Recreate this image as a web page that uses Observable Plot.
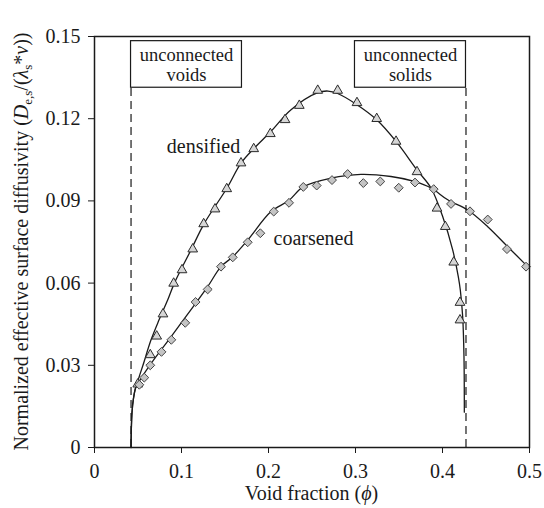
<!DOCTYPE html>
<html>
<head>
<meta charset="utf-8">
<script src="https://cdn.jsdelivr.net/npm/d3@7"></script>
<script src="https://cdn.jsdelivr.net/npm/@observablehq/plot@0.6"></script>
<style>
  html, body { margin: 0; padding: 0; background: #fff; }
</style>
</head>
<body>
<div id="chart"></div>
<script>
// ---- data ----
// densified (triangles)
const densifiedX = [0.0497, 0.0641, 0.0715, 0.0787, 0.0910, 0.1006, 0.1129, 0.1255, 0.1385, 0.1520, 0.1684, 0.1830, 0.2021, 0.2190, 0.2354, 0.2566, 0.2795, 0.3017, 0.3244, 0.3466, 0.3707, 0.3937, 0.4032, 0.4129, 0.4201, 0.4201];
const densifiedY = [0.0231, 0.0338, 0.0406, 0.0487, 0.0599, 0.0648, 0.0724, 0.0816, 0.0870, 0.0944, 0.1038, 0.1090, 0.1145, 0.1196, 0.1248, 0.1303, 0.1303, 0.1258, 0.1200, 0.1117, 0.1006, 0.0873, 0.0806, 0.0676, 0.0529, 0.0465];
// coarsened (diamonds)
const coarsenedX = [0.0515, 0.0572, 0.0641, 0.0770, 0.0883, 0.1043, 0.1162, 0.1301, 0.1454, 0.1589, 0.1761, 0.1906, 0.2060, 0.2236, 0.2400, 0.2554, 0.2730, 0.2910, 0.3090, 0.3285, 0.3497, 0.3684, 0.3899, 0.4098, 0.4316, 0.4520, 0.4741, 0.4960];
const coarsenedY = [0.0229, 0.0255, 0.0300, 0.0349, 0.0393, 0.0455, 0.0531, 0.0577, 0.0660, 0.0694, 0.0749, 0.0782, 0.0861, 0.0893, 0.0951, 0.0956, 0.0976, 0.0998, 0.0965, 0.0971, 0.0948, 0.0967, 0.0943, 0.0889, 0.0862, 0.0832, 0.0724, 0.0660];
// fitted curves
const densifiedFitX = [0.0420, 0.0423, 0.0431, 0.0448, 0.0471, 0.0511, 0.0557, 0.0649, 0.0741, 0.0841, 0.0917, 0.1109, 0.1262, 0.1523, 0.1684, 0.1837, 0.2029, 0.2259, 0.2566, 0.2684, 0.2795, 0.3017, 0.3244, 0.3466, 0.3707, 0.3868, 0.4002, 0.4117, 0.4182, 0.4205, 0.4232, 0.4247, 0.4251];
const densifiedFitY = [0.0000, 0.0062, 0.0128, 0.0179, 0.0216, 0.0256, 0.0300, 0.0392, 0.0465, 0.0538, 0.0599, 0.0721, 0.0818, 0.0947, 0.1038, 0.1093, 0.1154, 0.1233, 0.1295, 0.1301, 0.1292, 0.1251, 0.1196, 0.1117, 0.1013, 0.0947, 0.0843, 0.0721, 0.0623, 0.0574, 0.0477, 0.0330, 0.0129];
const coarsenedFitX = [0.0420, 0.0423, 0.0431, 0.0448, 0.0471, 0.0500, 0.0649, 0.0879, 0.1167, 0.1301, 0.1454, 0.1589, 0.1761, 0.2029, 0.2236, 0.2397, 0.2718, 0.3063, 0.3408, 0.3676, 0.3868, 0.4060, 0.4290, 0.4520, 0.4749, 0.4979];
const coarsenedFitY = [0.0000, 0.0062, 0.0128, 0.0179, 0.0216, 0.0234, 0.0306, 0.0404, 0.0528, 0.0587, 0.0660, 0.0696, 0.0757, 0.0861, 0.0902, 0.0951, 0.0983, 0.0997, 0.0989, 0.0971, 0.0947, 0.0904, 0.0867, 0.0806, 0.0733, 0.0660];
// percolation thresholds (dashed lines)
const thresholdX = [0.042, 0.427];
// annotation boxes
const boxLines = [["unconnected", "voids"], ["unconnected", "solids"]];
const boxX1 = [0.042, 0.2994];
const boxX2 = [0.1695, 0.427];
const boxY1 = [0.1313, 0.1313];
const boxY2 = [0.1483, 0.1483];
// curve labels
const curveLabels = ["densified", "coarsened"];
const curveLabelX = [0.1253, 0.2517];
const curveLabelY = [0.1099, 0.0763];
// ticks
const xTicks = [0, 0.1, 0.2, 0.3, 0.4, 0.5];
const xTickLabels = ["0", "0.1", "0.2", "0.3", "0.4", "0.5"];
const yTicks = [0, 0.03, 0.06, 0.09, 0.12, 0.15];
const yTickLabels = ["0", "0.03", "0.06", "0.09", "0.12", "0.15"];

// ---- build tables ----
const tri = densifiedX.map((x, i) => ({x, y: densifiedY[i]}));
const dia = coarsenedX.map((x, i) => ({x, y: coarsenedY[i]}));
const fitD = densifiedFitX.map((x, i) => ({x, y: densifiedFitY[i]}));
const fitC = coarsenedFitX.map((x, i) => ({x, y: coarsenedFitY[i]}));
const boxes = boxLines.map((l, i) => ({text: l.join("\n"), x1: boxX1[i], x2: boxX2[i], y1: boxY1[i], y2: boxY2[i], xc: (boxX1[i] + boxX2[i]) / 2, yc: (boxY1[i] + boxY2[i]) / 2}));
const thresholds = thresholdX.map((x, i) => ({x, top: boxY1[i]}));
const labels = curveLabels.map((t, i) => ({t, x: curveLabelX[i], y: curveLabelY[i]}));

const FONT = "'Liberation Serif', 'DejaVu Serif', serif";
const INK = "#1a1a1a";

const chart = Plot.plot({
  width: 544,
  height: 508,
  marginLeft: 94,
  marginRight: 15,
  marginTop: 36,
  marginBottom: 61,
  style: {fontFamily: FONT, fontSize: "20px", background: "#fff", color: INK},
  x: {domain: [0, 0.5]},
  y: {domain: [0, 0.15]},
  marks: [
    Plot.ruleX(thresholds, {x: "x", y1: 0, y2: "top", stroke: INK, strokeWidth: 1.2, strokeDasharray: "8,5"}),
    Plot.rect(boxes, {x1: "x1", x2: "x2", y1: "y1", y2: "y2", fill: "#fff", stroke: INK, strokeWidth: 1.2}),
    Plot.text(boxes, {x: "xc", y: "yc", text: "text", fontSize: 18.5, lineHeight: 1.12, fill: INK}),
    Plot.line(fitD, {x: "x", y: "y", curve: "catmull-rom", stroke: INK, strokeWidth: 1.3}),
    Plot.line(fitC, {x: "x", y: "y", curve: "catmull-rom", stroke: INK, strokeWidth: 1.3}),
    Plot.dot(tri, {x: "x", y: "y", symbol: "triangle", r: 3.6, fill: "#d6d6d6", stroke: "#2a2a2a", strokeWidth: 1}),
    Plot.dot(dia, {x: "x", y: "y", symbol: "diamond2", r: 4, fill: "#c4c4c4", stroke: "#444", strokeWidth: 1}),
    Plot.text(labels, {x: "x", y: "y", text: "t", fontSize: 20, fill: INK}),
    Plot.axisX(xTicks, {tickFormat: d => xTickLabels[xTicks.indexOf(d)], tickSize: 6, tickPadding: 10, label: null, fontSize: 20}),
    Plot.axisY(yTicks, {tickFormat: d => yTickLabels[yTicks.indexOf(d)], tickSize: 6, tickPadding: 8, label: null, fontSize: 20}),
    Plot.frame({stroke: INK, strokeWidth: 1.5})
  ]
});

document.getElementById("chart").appendChild(chart);

// axis titles with italic symbols and subscripts
const svg = d3.select(chart);
const xl = svg.append("text")
  .attr("x", 311.5).attr("y", 500)
  .attr("text-anchor", "middle")
  .attr("font-family", FONT).attr("font-size", 20).attr("fill", INK);
xl.append("tspan").text("Void fraction (");
xl.append("tspan").attr("font-style", "italic").text("ϕ");
xl.append("tspan").text(")");

const yl = svg.append("text")
  .attr("transform", "translate(21,241.5) rotate(-90)")
  .attr("text-anchor", "middle").attr("dy", "0.35em")
  .attr("font-family", FONT).attr("font-size", 20).attr("fill", INK);
yl.append("tspan").text("Normalized effective surface diffusivity (");
yl.append("tspan").attr("font-style", "italic").text("D");
yl.append("tspan").attr("font-size", 13).attr("dy", 4).text("e,s");
yl.append("tspan").attr("dy", -4).text("/(");
yl.append("tspan").attr("font-style", "italic").text("λ");
yl.append("tspan").attr("font-size", 13).attr("dy", 4).text("s");
yl.append("tspan").attr("dy", -4).text("*");
yl.append("tspan").attr("font-style", "italic").text("ν");
yl.append("tspan").text("))");
</script>
</body>
</html>
